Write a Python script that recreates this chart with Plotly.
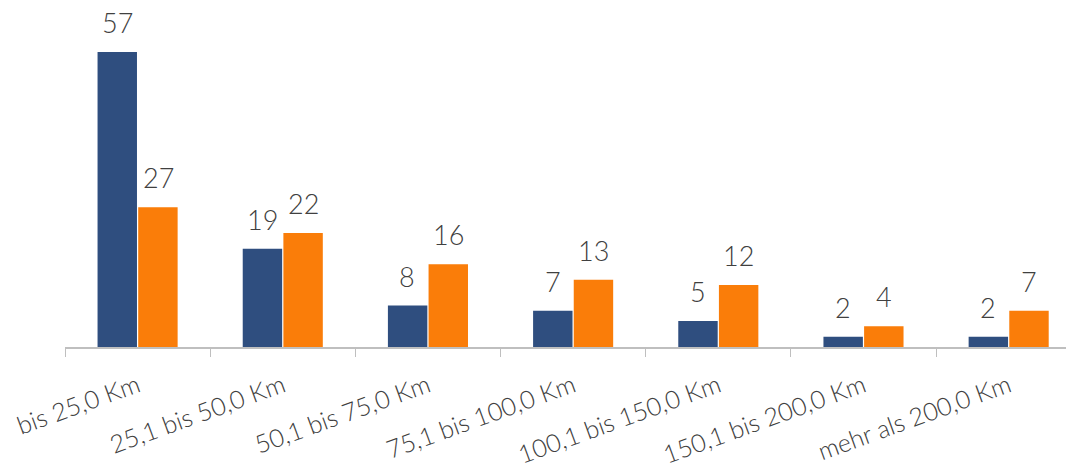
import plotly.graph_objects as go

categories = ["bis 25,0 Km", "25,1 bis 50,0 Km", "50,1 bis 75,0 Km", "75,1 bis 100,0 Km",
              "100,1 bis 150,0 Km", "150,1 bis 200,0 Km", "mehr als 200,0 Km"]
series_a = [57, 19, 8, 7, 5, 2, 2]
series_b = [27, 22, 16, 13, 12, 4, 7]

blue = "#2F4E7F"
orange = "#FA7D09"
txt = "#404040"
fam = "Lato Light, Lato"

fig = go.Figure()
fig.add_trace(go.Bar(x=categories, y=series_a, marker=dict(color=blue, line=dict(width=0)), name="A"))
fig.add_trace(go.Bar(x=categories, y=series_b, marker=dict(color=orange, line=dict(width=0)), name="B"))

annots = []
for cat, a, b in zip(categories, series_a, series_b):
    for val, shift in ((a, -20.5), (b, 20.5)):
        annots.append(dict(x=cat, y=val, text=str(val), showarrow=False, xshift=shift,
                           yanchor="bottom", yshift=17, borderpad=0, height=24,
                           font=dict(family=fam, size=27, color=txt, weight=300)))

fig.update_layout(
    width=1066, height=464,
    margin=dict(l=57, r=0, t=2, b=125, autoexpand=False),
    paper_bgcolor="white", plot_bgcolor="white",
    barmode="group", bargap=0.44, bargroupgap=0.03,
    showlegend=False,
    annotations=annots,
    font=dict(family=fam, color=txt, weight=300),
    xaxis=dict(range=[-0.5, 6.45], showline=True, linecolor="#BFBFBF", linewidth=1.5,
               ticks="outside", tickson="boundaries", ticklen=8, tickcolor="#BFBFBF",
               automargin=False, ticklabelstandoff=13,
               tickangle=-20, tickfont=dict(family=fam, size=25, color=txt, weight=300), showgrid=False),
    yaxis=dict(range=[0, 65.1], visible=False, showgrid=False, zeroline=False, automargin=False),
)
fig.write_html("out.html")
